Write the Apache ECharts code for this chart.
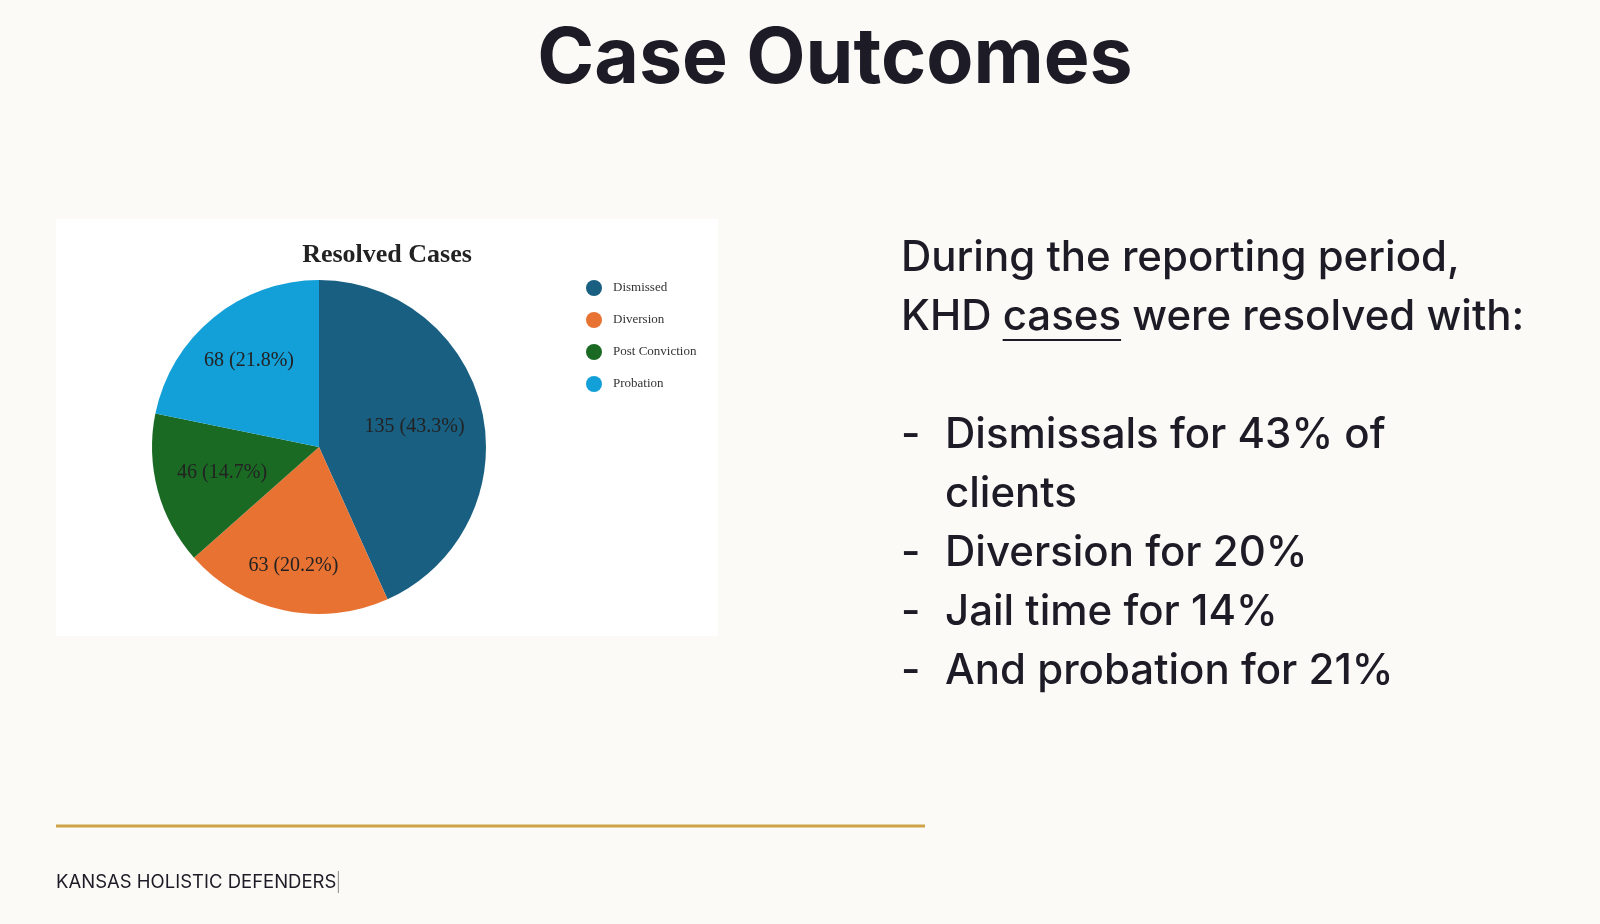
<!DOCTYPE html>
<html>
<head>
<meta charset="utf-8">
<script src="https://cdn.jsdelivr.net/npm/echarts@6/dist/echarts.min.js"></script>
<style>
html,body{margin:0;padding:0;background:#fcfaf6;}
#main{width:1600px;height:924px;}
</style>
</head>
<body>
<div id="main"></div>
<script>
// data
var categories = ['Dismissed', 'Diversion', 'Post Conviction', 'Probation'];
var caseCounts = [135, 63, 46, 68];
var sliceColors = ['#195f82', '#e87232', '#1b6a24', '#139fd8'];
var introLines = ['During the reporting period,', 'were resolved with:'];
var bulletLines = ['Dismissals for 43% of', 'clients', 'Diversion for 20%', 'Jail time for 14%', 'And probation for 21%'];
var bulletDash = [true, false, true, true, true];
// how far out each slice label sits, relative to the default "inside" spot
var labelPush = [1.13, 1.41, 1.16, 1.28];

var sans = 'Inter, "Noto Sans", sans-serif';
var serif = '"Liberation Serif", "DejaVu Serif", serif';
var center = [319, 447];
var ink = '#1c1b26';

function textWidth(str, font) {
    var ctx = document.createElement('canvas').getContext('2d');
    ctx.font = font;
    return ctx.measureText(str).width;
}

var graphics = [];
// white card behind the pie
graphics.push({type: 'rect', z: -10, shape: {x: 56, y: 219, width: 662, height: 417}, style: {fill: '#ffffff'}});
// slide title
graphics.push({type: 'text', x: 835, y: 60, style: {text: 'Case Outcomes', font: '700 77px ' + sans, fill: ink, align: 'center', verticalAlign: 'middle'}});

// right column text
var tx = 901, bodyFont = '500 42px ' + sans;
graphics.push({type: 'text', x: tx, y: 258, style: {text: introLines[0], font: bodyFont, fill: ink, verticalAlign: 'middle'}});
var w1 = textWidth('KHD ', bodyFont), w2 = textWidth('cases', bodyFont);
graphics.push({type: 'text', x: tx, y: 317, style: {text: 'KHD', font: bodyFont, fill: ink, verticalAlign: 'middle'}});
graphics.push({type: 'text', x: tx + w1, y: 317, style: {text: 'cases', font: bodyFont, fill: ink, verticalAlign: 'middle'}});
graphics.push({type: 'line', shape: {x1: tx + w1, y1: 340, x2: tx + w1 + w2, y2: 340}, style: {stroke: ink, lineWidth: 2}});
graphics.push({type: 'text', x: tx + w1 + w2 + textWidth(' ', bodyFont), y: 317, style: {text: introLines[1], font: bodyFont, fill: ink, verticalAlign: 'middle'}});

for (var i = 0; i < bulletLines.length; i++) {
    var y = 435 + i * 59;
    if (bulletDash[i]) {
        graphics.push({type: 'text', x: tx, y: y, style: {text: '-', font: bodyFont, fill: ink, verticalAlign: 'middle'}});
    }
    graphics.push({type: 'text', x: 945, y: y, style: {text: bulletLines[i], font: bodyFont, fill: ink, verticalAlign: 'middle'}});
}

// footer
var footFont = '400 18.5px ' + sans;
var footW = textWidth('KANSAS HOLISTIC DEFENDERS', footFont);
graphics.push({type: 'line', shape: {x1: 56, y1: 826, x2: 925, y2: 826}, style: {stroke: '#cfa349', lineWidth: 3}});
graphics.push({type: 'text', x: 56, y: 882, style: {text: 'KANSAS HOLISTIC DEFENDERS', font: footFont, fill: ink, verticalAlign: 'middle'}});
graphics.push({type: 'line', shape: {x1: 56 + footW + 2, y1: 871, x2: 56 + footW + 2, y2: 893}, style: {stroke: '#888', lineWidth: 1}});

var pieData = categories.map(function (name, i) {
    return {name: name, value: caseCounts[i], itemStyle: {color: sliceColors[i]}};
});

var chart = echarts.init(document.getElementById('main'));
chart.setOption({
    backgroundColor: '#fcfaf6',
    animation: false,
    title: {
        text: 'Resolved Cases',
        left: 382,
        top: 237,
        textAlign: 'center',
        textStyle: {fontFamily: serif, fontWeight: 'bold', fontSize: 26, color: '#222'}
    },
    legend: {
        orient: 'vertical',
        left: 581,
        top: 275,
        icon: 'circle',
        itemWidth: 28,
        itemHeight: 16,
        itemGap: 16,
        data: categories,
        textStyle: {fontFamily: serif, fontSize: 13, color: '#333'}
    },
    graphic: graphics,
    series: [{
        type: 'pie',
        center: center,
        radius: 167,
        startAngle: 90,
        clockwise: true,
        percentPrecision: 1,
        data: pieData,
        label: {
            position: 'inside',
            formatter: '{c} ({d}%)',
            fontFamily: serif,
            fontSize: 20,
            color: '#222'
        },
        labelLayout: function (p) {
            var k = labelPush[p.dataIndex];
            var cx = p.labelRect.x + p.labelRect.width / 2;
            var cy = p.labelRect.y + p.labelRect.height / 2;
            return {x: center[0] + (cx - center[0]) * k, y: center[1] + (cy - center[1]) * k};
        },
        labelLine: {show: false},
        emphasis: {disabled: true}
    }]
});
</script>
</body>
</html>
